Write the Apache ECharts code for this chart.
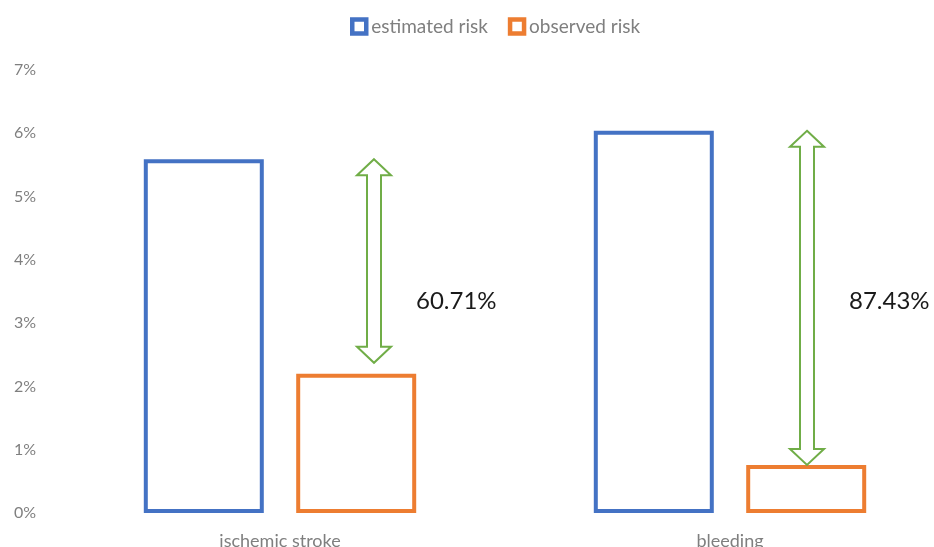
<!DOCTYPE html>
<html>
<head>
<meta charset="utf-8">
<script src="https://cdn.jsdelivr.net/npm/echarts@6/dist/echarts.min.js"></script>
<style>html,body{margin:0;padding:0;background:#fff;}#main{width:934px;height:547px;}</style>
</head>
<body>
<div id="main"></div>
<script>
const categories = ['ischemic stroke', 'bleeding'];
const estimatedRisk = [5.59, 6.04];
const observedRisk = [2.20, 0.76];
const reductionLabels = ['60.71%', '87.43%'];
const yTicks = [0, 1, 2, 3, 4, 5, 6, 7];

const FONT = 'Lato, "Open Sans", sans-serif';
const arrowDx = [94, 77];
const arrowTopPad = [0, 0];
const arrowBotPad = [11, 0];
const labelLevel = 3.35;

const arrowData = categories.map((c, i) => [i, estimatedRisk[i], observedRisk[i], reductionLabels[i]]);

const chart = echarts.init(document.getElementById('main'));
chart.setOption({
  animation: false,
  backgroundColor: '#fff',
  legend: {
    left: 345, top: 12,
    itemWidth: 14, itemHeight: 14, itemGap: 20,
    textStyle: { color: '#7f7f7f', fontSize: 19, fontFamily: FONT },
    data: [
      { name: 'estimated risk', icon: 'rect', itemStyle: { color: '#fff', borderColor: '#4472C4', borderWidth: 4.5 } },
      { name: 'observed risk', icon: 'rect', itemStyle: { color: '#fff', borderColor: '#ED7D31', borderWidth: 4.5 } }
    ]
  },
  grid: { left: 55, width: 900, top: 70, bottom: 34, outerBoundsMode: 'none', containLabel: false },
  xAxis: {
    type: 'category', data: categories,
    axisLine: { show: false }, axisTick: { show: false },
    axisLabel: { color: '#7f7f7f', fontSize: 18, fontFamily: FONT, margin: 19 }
  },
  yAxis: {
    type: 'value', min: 0, max: 7, interval: 1,
    data: yTicks,
    splitLine: { show: false },
    axisLine: { show: false }, axisTick: { show: false },
    axisLabel: { color: '#7f7f7f', fontSize: 16, fontFamily: FONT, margin: 19, formatter: v => v + '%' }
  },
  series: [
    {
      name: 'estimated risk', type: 'bar', data: estimatedRisk,
      barWidth: 120, barGap: '27%',
      itemStyle: { color: 'rgba(255,255,255,0)', borderColor: '#4472C4', borderWidth: 4 }
    },
    {
      name: 'observed risk', type: 'bar', data: observedRisk,
      barWidth: 120,
      itemStyle: { color: 'rgba(255,255,255,0)', borderColor: '#ED7D31', borderWidth: 4 }
    },
    {
      type: 'custom', data: arrowData, z: 5,
      encode: { x: 0, y: [1, 2] },
      renderItem: function (params, api) {
        const i = api.value(0);
        const top = api.coord([i, api.value(1)]);
        const bot = api.coord([i, api.value(2)]);
        const cx = top[0] + arrowDx[i];
        const ty = top[1] + arrowTopPad[i];
        const by = bot[1] - arrowBotPad[i];
        const hw = 17, sw = 7, hh = 16;
        const pts = [
          [cx, ty], [cx + hw, ty + hh], [cx + sw, ty + hh], [cx + sw, by - hh],
          [cx + hw, by - hh], [cx, by], [cx - hw, by - hh], [cx - sw, by - hh],
          [cx - sw, ty + hh], [cx - hw, ty + hh]
        ];
        const ly = api.coord([i, labelLevel])[1];
        return {
          type: 'group',
          children: [
            { type: 'polygon', shape: { points: pts }, style: { fill: '#fff', stroke: '#70AD47', lineWidth: 2 } },
            { type: 'text', x: cx + 42, y: ly, style: { text: reductionLabels[i], fill: '#1a1a1a', font: '24px ' + FONT, textAlign: 'left', textVerticalAlign: 'middle' } }
          ]
        };
      }
    }
  ]
});
</script>
</body>
</html>
